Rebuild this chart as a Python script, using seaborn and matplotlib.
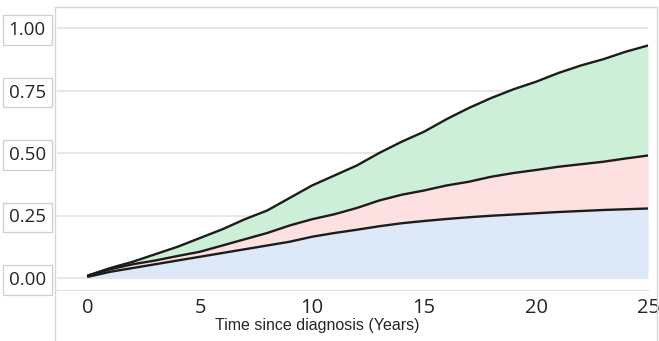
import numpy as np
import pandas as pd
import matplotlib
matplotlib.use("Agg")
import matplotlib.pyplot as plt
from matplotlib.patches import Rectangle
import seaborn as sns

# cumulative incidence (stacked totals)
years = list(range(0, 26))
cause_1 = [0.005, 0.025, 0.04, 0.055, 0.07, 0.085, 0.10, 0.115, 0.13, 0.145,
           0.165, 0.18, 0.193, 0.207, 0.219, 0.228, 0.236, 0.243, 0.249, 0.254,
           0.259, 0.264, 0.268, 0.272, 0.275, 0.278]
cause_1_2 = [0.01, 0.035, 0.055, 0.07, 0.088, 0.105, 0.13, 0.155, 0.18, 0.21,
             0.235, 0.255, 0.28, 0.31, 0.333, 0.35, 0.37, 0.385, 0.405, 0.42,
             0.432, 0.445, 0.455, 0.465, 0.478, 0.49]
all_causes = [0.01, 0.04, 0.065, 0.095, 0.125, 0.16, 0.195, 0.235, 0.27, 0.32,
              0.37, 0.41, 0.45, 0.50, 0.545, 0.585, 0.635, 0.68, 0.72, 0.755,
              0.785, 0.82, 0.85, 0.875, 0.905, 0.93]
x_ticks = [0, 5, 10, 15, 20, 25]
y_ticks = [0.0, 0.25, 0.5, 0.75, 1.0]

df = pd.DataFrame({"t": years, "c1": cause_1, "c2": cause_1_2, "c3": all_causes})

sns.set_style("white")
plt.rcParams["font.family"] = ["Liberation Sans", "DejaVu Sans"]

fig = plt.figure(figsize=(6.59, 3.41), dpi=100)
ax = fig.add_axes([57/659, 51/341, 591/659, 282/341])

#filled bands
ax.fill_between(df.t, 0, df.c1, color="#dde8f8", lw=0)
ax.fill_between(df.t, df.c1, df.c2, color="#fde1e1", lw=0)
ax.fill_between(df.t, df.c2, df.c3, color="#cdeed7", lw=0)

for col in ["c1", "c2", "c3"]:
    sns.lineplot(x="t", y=col, data=df, ax=ax, color="#1c1c1c", lw=1.7)

ax.set_xlim(-1.384, 25)
ax.set_ylim(-0.048, 1.08)
ax.set_xticks(x_ticks)
ax.set_xticklabels([str(v) for v in x_ticks], fontsize=14.5, family="Open Sans")
ax.set_yticks(y_ticks)
ax.set_yticklabels(["%.2f" % v for v in y_ticks], fontsize=13.5, family="Open Sans")
for lbl in ax.get_yticklabels():
    lbl.set_bbox(dict(boxstyle="square,pad=0.3", facecolor="white",
                      edgecolor="#cfcfcf", lw=0.9))
ax.tick_params(axis="x", length=0, pad=6)
ax.tick_params(axis="y", length=0, pad=8)
ax.yaxis.grid(True, color="#e3e3e3", lw=1.2)
ax.set_ylabel("")
ax.set_xlabel("Time since diagnosis (Years)", fontsize=11.5)
ax.xaxis.set_label_coords(0.44, -0.1)
ax.xaxis.label.set_va("top")

for s in ["top", "right", "left"]:
    ax.spines[s].set_visible(False)
ax.spines["bottom"].set_color("#e0e0e0")
ax.set_axisbelow(True)

fig.add_artist(Rectangle((55/659, -0.02), 602/659, 1.02 - 7/341,
                         transform=fig.transFigure, fill=False,
                         edgecolor="#d6d6d6", lw=1))

fig.savefig("out.png", dpi=100)
